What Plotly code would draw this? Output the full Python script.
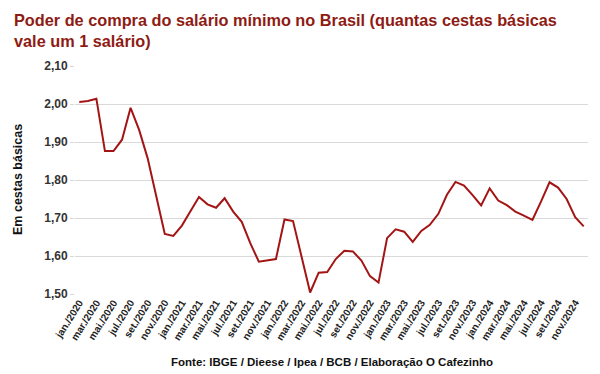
import plotly.graph_objects as go

months_pt = ["jan.", "fev.", "mar.", "abr.", "mai.", "jun.", "jul.", "ago.", "set.", "out.", "nov.", "dez."]
years = [2020, 2021, 2022, 2023, 2024]
categories = [f"{m}/{y}" for y in years for m in months_pt]

values = [
    2.005, 2.008, 2.014, 1.876, 1.876, 1.906, 1.990, 1.932, 1.857, 1.756, 1.658, 1.653,
    1.680, 1.718, 1.755, 1.736, 1.727, 1.752, 1.717, 1.690, 1.634, 1.585, 1.589, 1.592,
    1.696, 1.692, 1.598, 1.504, 1.556, 1.558, 1.592, 1.614, 1.612, 1.588, 1.547, 1.530,
    1.647, 1.670, 1.664, 1.637, 1.666, 1.682, 1.711, 1.761, 1.795, 1.785, 1.760, 1.733,
    1.778, 1.746, 1.734, 1.717, 1.706, 1.695, 1.743, 1.794, 1.780, 1.750, 1.702, 1.678,
]

tick_labels = categories[::2]
y_ticks = [1.50, 1.60, 1.70, 1.80, 1.90, 2.00, 2.10]
y_tick_text = [f"{v:.2f}".replace(".", ",") for v in y_ticks]

title_text = "Poder de compra do salário mínimo no Brasil (quantas cestas básicas<br>vale um 1 salário)"
source_text = "Fonte: IBGE / Dieese / Ipea / BCB / Elaboração O Cafezinho"
y_title = "Em cestas básicas"

fig = go.Figure()
fig.add_trace(go.Scatter(
    x=categories, y=values, mode="lines",
    line=dict(color="#A31515", width=2),
    hoverinfo="x+y",
))

fig.update_layout(
    width=600, height=374,
    margin=dict(l=75, r=12, t=66, b=80),
    paper_bgcolor="white", plot_bgcolor="white",
    font=dict(family="Liberation Sans, Arial, sans-serif", color="#222222"),
    showlegend=False,
    xaxis=dict(
        type="category", range=[-0.5, len(categories) - 0.5],
        tickmode="array", tickvals=tick_labels, ticktext=tick_labels,
        tickangle=-58, tickfont=dict(size=10, color="#222222", weight="bold"),
        showgrid=False, showline=False, ticks="", automargin=False,
    ),
    yaxis=dict(
        range=[1.50, 2.10], tickvals=y_ticks, ticktext=y_tick_text,
        tickfont=dict(size=12, color="#333333", weight="bold"),
        showgrid=True, gridcolor="#D9D9D9", gridwidth=1,
        zeroline=False, showline=False,
        ticks="outside", ticklen=4, tickcolor="#D9D9D9",
        automargin=False,
    ),
)

fig.add_annotation(
    text=title_text, xref="paper", yref="paper",
    x=-63 / 513, y=(294 - 30.5) / 228, xanchor="left", yanchor="middle",
    align="left", showarrow=False,
    font=dict(size=16.3, color="#8E1B14", weight="bold"),
)

fig.add_annotation(
    text=y_title, xref="paper", yref="paper",
    x=-57 / 513, y=0.5, xanchor="center", yanchor="middle",
    textangle=-90, showarrow=False,
    font=dict(size=12.5, color="#111111", weight="bold"),
)

fig.add_annotation(
    text=source_text, xref="paper", yref="paper", x=0.5, y=(294 - 362) / 228,
    xanchor="center", yanchor="middle", showarrow=False,
    font=dict(size=11.5, color="#111111", weight="bold"),
)

fig.write_html("out.html", config={"displayModeBar": False},
               post_script="document.body.style.margin='0';")
